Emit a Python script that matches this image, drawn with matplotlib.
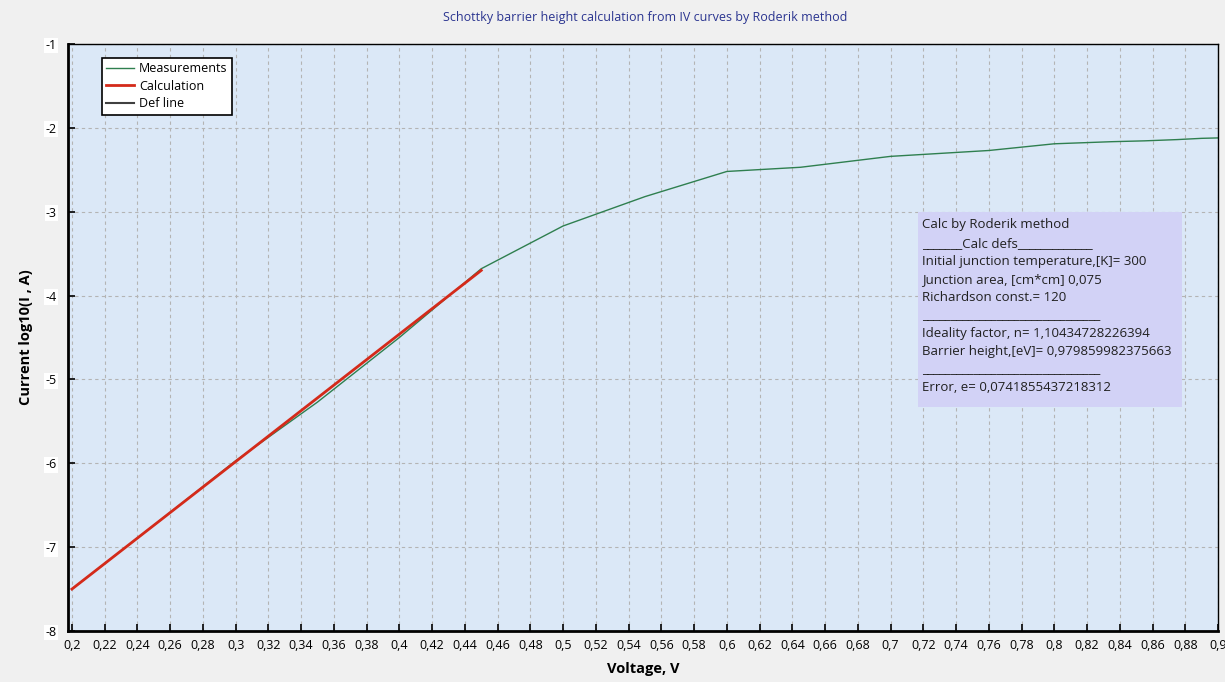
import matplotlib.pyplot as plt
from matplotlib.patches import Rectangle
from matplotlib.ticker import MultipleLocator, FuncFormatter

plt.rcParams['font.family'] = ['Open Sans', 'DejaVu Sans']

# measured IV curve, log10(I)
volt_meas = [0.2, 0.25, 0.3, 0.35, 0.4, 0.45, 0.5, 0.55, 0.6, 0.645, 0.7,
             0.76, 0.80, 0.835, 0.855, 0.875, 0.89, 0.9]
logi_meas = [-7.5, -6.74, -5.97, -5.27, -4.5, -3.68, -3.17, -2.82, -2.52,
             -2.47, -2.34, -2.27, -2.19, -2.165, -2.155, -2.14, -2.125, -2.12]

# fitted line by Roderik method
volt_calc = [0.2, 0.45]
logi_calc = [-7.5, -3.7]

info_lines = [
    "Calc by Roderik method",
    "_______Calc defs_____________",
    "Initial junction temperature,[K]= 300",
    "Junction area, [cm*cm] 0,075",
    "Richardson const.= 120",
    "_______________________________",
    "Ideality factor, n= 1,10434728226394",
    "Barrier height,[eV]= 0,979859982375663",
    "_______________________________",
    "Error, e= 0,0741855437218312",
]

W, H = 1225, 682
fig = plt.figure(figsize=(W / 100, H / 100), dpi=100, facecolor='#f0f0f0')
ax = fig.add_axes([68 / W, 1 - 631 / H, 1150 / W, 587 / H])
ax.set_facecolor('#dbe8f7')

ax.plot(volt_meas, logi_meas, color='#2f7f4f', lw=1.0, label='Measurements')
ax.plot(volt_calc, logi_calc, color='#d42a1a', lw=2.0, label='Calculation')
ax.plot([], [], color='#404040', lw=1.5, label='Def line')

ax.set_xlim(0.1976, 0.9)
ax.set_ylim(-8, -1)
ax.xaxis.set_major_locator(MultipleLocator(0.02))
ax.yaxis.set_major_locator(MultipleLocator(1))
ax.xaxis.set_major_formatter(FuncFormatter(lambda v, p: f"{round(v, 2):g}".replace('.', ',')))
ax.yaxis.set_major_formatter(FuncFormatter(lambda v, p: f"{v:g}"))
ax.grid(True, ls=(0, (3, 3)), color='#b4b4b4', lw=0.8)
ax.tick_params(direction='in', length=5, width=1.2, labelsize=9, colors='black')
ax.tick_params(axis='y', pad=8)
ax.tick_params(axis='x', pad=6)
for lab in ax.get_yticklabels():
    lab.set_bbox(dict(facecolor='white', edgecolor='none', pad=1))
xlabs = ax.get_xticklabels()
xlabs[-1].set_ha('right')
for side in ['left', 'bottom']:
    ax.spines[side].set_linewidth(2)
for side in ['top', 'right']:
    ax.spines[side].set_linewidth(1)

ax.set_xlabel('Voltage, V', fontweight='bold', fontsize=10.5, labelpad=7)
ax.set_ylabel('Current log10(I , A)', fontweight='bold', fontsize=10.5, labelpad=9)
fig.text(645 / W, 1 - 17 / H, 'Schottky barrier height calculation from IV curves by Roderik method',
         color='#2b3590', fontsize=9, ha='center', va='center')

leg = ax.legend(loc='upper left', bbox_to_anchor=((102 - 68) / 1150, (631 - 58) / 587),
                fancybox=False, edgecolor='black', framealpha=1, facecolor='white',
                fontsize=9, handlelength=2.2, handletextpad=0.4, borderpad=0.35,
                labelspacing=0.35, borderaxespad=0)
leg.get_frame().set_linewidth(1.2)

# info box
fig.patches.append(Rectangle((918 / W, 1 - 407 / H), 264 / W, 195 / H,
                             transform=fig.transFigure, facecolor='#d2d2f6',
                             edgecolor='none', zorder=5))
for i, line in enumerate(info_lines):
    fig.text(922 / W, 1 - (225 + i * 18.1) / H, line, fontsize=9.5,
             color='#202020', va='center', ha='left', zorder=6)

fig.savefig('out.png', dpi=100, facecolor=fig.get_facecolor())
